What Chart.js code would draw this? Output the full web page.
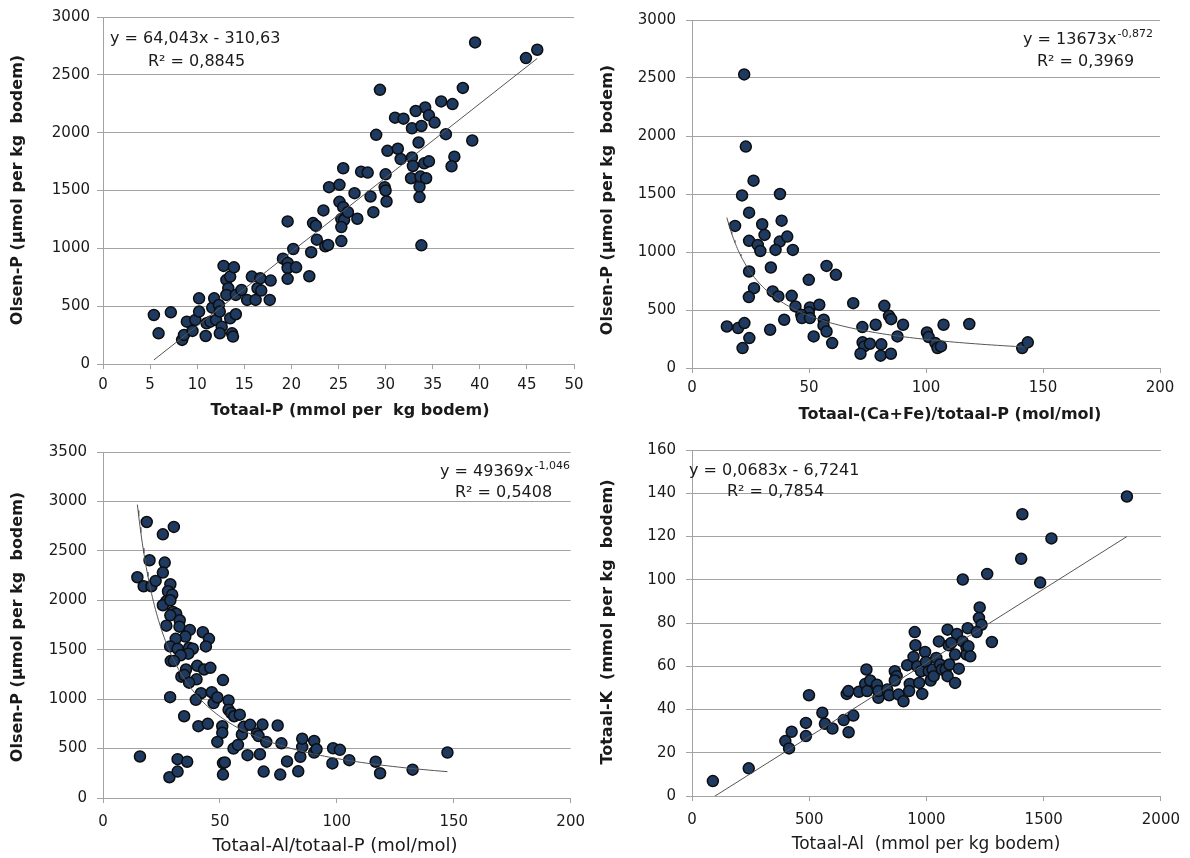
<!DOCTYPE html>
<html>
<head>
<meta charset="utf-8">
<script src="https://cdn.jsdelivr.net/npm/chart.js@4.4.1/dist/chart.umd.min.js"></script>
<style>
  body { margin: 0; background: #fff; }
  .panel { position: absolute; width: 595px; height: 429px; }
</style>
</head>
<body>
<div class="panel" style="left:0;top:0"><canvas id="c1" width="595" height="429"></canvas></div>
<div class="panel" style="left:595px;top:0"><canvas id="c2" width="595" height="429"></canvas></div>
<div class="panel" style="left:0;top:429px"><canvas id="c3" width="595" height="429"></canvas></div>
<div class="panel" style="left:595px;top:429px"><canvas id="c4" width="595" height="429"></canvas></div>
<script>
// Olsen-P against totaal-P
const totaalP = [
  5.4, 5.9, 7.2, 8.4, 8.6, 8.9, 9.5, 9.8, 10.2, 10.2, 10.9, 11.0, 11.4, 11.6, 11.8, 12.0, 12.3, 12.4, 12.6, 12.4,
  12.8, 13.1, 13.3, 13.5, 13.1, 13.5, 13.7, 13.8, 13.9, 14.1, 14.1, 14.7, 15.3, 15.8, 16.2, 16.4, 16.7, 16.8, 17.7, 17.8,
  19.6, 20.2, 19.1, 19.6, 19.6, 20.5, 19.6, 21.9, 22.1, 22.3, 22.6, 22.7, 23.4, 23.6, 23.9, 24.0, 25.1, 25.1, 25.5, 25.3,
  25.6, 25.3, 25.3, 26.0, 26.7, 27.0, 28.4, 28.7, 29.9, 30.0, 30.1, 33.6, 33.6, 33.8,
  39.5, 44.9, 46.1, 29.4, 38.2, 35.9, 37.1, 34.2, 33.2, 31.0, 31.9, 34.6, 35.2, 32.8, 33.8, 29.0, 36.4, 39.2, 30.2, 31.3,
  33.5, 31.6, 32.8, 32.9, 37.3, 37.0, 34.1, 34.6, 25.5, 27.4, 28.1, 30.0, 32.7, 33.7, 34.3
];
const olsenPa = [
  424, 265, 447, 208, 251, 366, 286, 381, 568, 453, 242, 352, 366, 487, 568, 381, 510, 453, 323, 265,
  848, 727, 655, 756, 597, 395, 265, 237, 836, 597, 430, 640, 554, 756, 554, 655, 741, 635, 554, 721,
  1233, 994, 911, 874, 830, 836, 736, 759, 966, 1218, 1195, 1075, 1328, 1017, 1029, 1529, 1549, 1402, 1356, 1253,
  1247, 1184, 1063, 1313, 1477, 1256, 1448, 1313, 1529, 1500, 1405, 1534, 1443, 1026,
  2780, 2645, 2717, 2370, 2387, 2270, 2247, 2218, 2187, 2130, 2121, 2150, 2087, 2038, 2058, 1981, 1987, 1932, 1843, 1861,
  1915, 1772, 1786, 1712, 1792, 1709, 1735, 1752, 1692, 1663, 1655, 1640, 1606, 1620, 1606
];

// Olsen-P against totaal-(Ca+Fe)/totaal-P
const caFeRatio = [
  22.3, 23.0, 26.3, 21.4, 37.6, 24.4, 18.4, 30.0, 31.0, 38.3, 24.4, 28.1, 29.2, 37.5, 40.7, 35.7, 43.1, 24.4, 33.7, 26.5,
  24.3, 34.5, 36.9, 42.6, 49.9, 57.5, 61.5, 44.2, 50.4, 49.9, 46.7, 47.0, 54.4, 50.4, 68.9, 82.2, 56.3, 56.2, 57.5, 52.0,
  59.9, 39.4, 33.4, 14.9, 19.7, 22.4, 24.5, 21.6, 72.8, 72.9, 73.6, 76.0, 72.0, 78.5, 80.9, 80.6, 84.2, 85.1, 85.0, 90.2,
  87.8, 100.4, 101.1, 104.0, 104.9, 106.4, 107.5, 118.5, 141.1, 143.5
];
const olsenPb = [
  2531, 1909, 1615, 1488, 1500, 1339, 1225, 1239, 1147, 1270, 1096, 1061, 1009, 1090, 1133, 1018, 1018, 832, 866, 688,
  611, 660, 617, 622, 760, 880, 803, 531, 522, 480, 459, 430, 545, 430, 559, 536, 416, 367, 315, 272,
  215, 416, 330, 358, 344, 387, 258, 172, 353, 221, 186, 209, 123, 373, 204, 106, 450, 421, 123, 373,
  272, 307, 267, 215, 172, 186, 373, 379, 172, 221
];

// Olsen-P against totaal-Al/totaal-P
const alPRatio = [
  18.7, 25.6, 30.3, 19.9, 26.4, 14.7, 17.4, 20.7, 22.5, 25.6, 28.8, 27.8, 29.6, 27.1, 25.6, 28.8, 29.9, 31.3, 28.8, 32.8,
  27.1, 32.7, 37.1, 42.7, 45.3, 44.0, 35.2, 31.1, 28.7, 31.9, 36.8, 38.4, 36.5, 33.2, 29.0, 30.3, 35.5, 40.3, 43.2, 45.9,
  33.5, 34.8, 40.0, 36.8, 51.3, 41.9, 46.5, 47.3, 48.9, 39.7, 53.7, 53.7, 54.8, 56.1, 58.5,
  15.8, 28.4, 31.9, 31.9, 36.0, 28.7, 34.7, 40.8, 44.8, 51.0, 51.0, 48.9, 51.3, 52.1, 51.3, 55.8, 57.7, 61.8, 59.4, 60.2,
  62.9, 65.8, 66.5, 68.2, 67.1, 69.8, 68.7, 74.7, 75.8, 76.3, 78.7, 83.5, 84.4, 85.2, 85.2, 90.3, 90.3, 91.3, 98.4, 101.3,
  98.1, 105.3, 116.6, 118.5, 132.4, 147.3
];
const olsenPc = [
  2792, 2667, 2742, 2405, 2381, 2233, 2142, 2142, 2196, 2280, 2162, 2091, 2057, 1990, 1950, 2000, 1882, 1865, 1848, 1798,
  1743, 1733, 1700, 1677, 1610, 1533, 1633, 1610, 1533, 1510, 1520, 1510, 1460, 1443, 1387, 1387, 1300, 1337, 1300, 1317,
  1227, 1243, 1200, 1167, 1193, 1060, 1070, 960, 1017, 993, 987, 893, 860, 827, 843,
  420, 210, 267, 393, 367, 1020, 827, 727, 750, 727, 660, 567, 353, 360, 237, 500, 537, 433, 643, 720,
  740, 653, 627, 743, 443, 567, 267, 733, 237, 553, 370, 270, 417, 517, 600, 577, 460, 493, 503, 487,
  350, 383, 367, 250, 287, 460
];

// Totaal-K against totaal-Al
const totaalAl = [
  1855, 1409, 1533, 1404, 1259, 1155, 1485, 1227, 1224, 1235, 1176, 1214, 950, 1090, 1130,
  89, 242, 398, 414, 425, 486, 486, 499, 556, 567, 599, 647, 668, 688, 660, 667, 712, 739, 744, 747,
  760, 789, 795, 795, 833, 841, 865, 873, 865, 881, 902, 918, 929, 926, 953, 945, 961, 977, 969, 982,
  994, 998, 1010, 1018, 1026, 1031, 1042, 1053, 1058, 1066, 1082, 1095, 1106, 1090, 1098, 1122, 1122, 1138, 1154, 1171,
  1171, 1179, 1187, 1279
];
const totaalK = [
  138.5, 130.3, 119.1, 109.7, 102.7, 100.1, 98.7, 87.2, 82.3, 79.2, 77.6, 75.8, 75.8, 76.9, 74.9,
  6.9, 12.8, 25.4, 22.0, 29.7, 27.7, 33.8, 46.6, 38.5, 33.4, 31.2, 35.1, 29.5, 37.2, 47.2, 48.5, 48.2, 51.8, 58.5, 48.5,
  53.4, 51.5, 45.4, 48.5, 49.2, 46.6, 57.7, 55.4, 53.4, 46.9, 43.8, 60.5, 51.8, 48.5, 69.7, 64.3, 60.0, 57.7, 52.3, 47.2,
  66.6, 62.0, 57.7, 53.4, 58.5, 55.4, 63.8, 71.5, 60.8, 58.5, 58.5, 69.7, 70.8, 55.4, 60.8, 65.4, 52.3, 58.9, 71.5, 68.5,
  65.4, 69.2, 64.6, 71.2
];

// fitted trendlines
const fitP = { a: 64.043, b: -310.63, r2: 0.8845 };
const fitCaFe = { a: 13673, b: -0.872, r2: 0.3969 };
const fitAlP = { a: 49369, b: -1.046, r2: 0.5408 };
const fitK = { a: 0.0683, b: -6.7241, r2: 0.7854 };

// axis ticks
const ticksOlsen3000 = [0, 500, 1000, 1500, 2000, 2500, 3000];
const ticksOlsen3500 = [0, 500, 1000, 1500, 2000, 2500, 3000, 3500];
const ticksTotaalP = [0, 5, 10, 15, 20, 25, 30, 35, 40, 45, 50];
const ticksRatio = [0, 50, 100, 150, 200];
const ticksK = [0, 20, 40, 60, 80, 100, 120, 140, 160];
const ticksAl = [0, 500, 1000, 1500, 2000];

const GRID = '#a3a3a3';
const INK = '#1a1a1a';
const FAM = "'DejaVu Sans', sans-serif";

const dec = v => String(v).replace('.', ',');
const points = (xs, ys) => xs.map((x, i) => ({ x: x, y: ys[i] }));

function linearTrend(xs, fit) {
  const lo = Math.min(...xs), hi = Math.max(...xs);
  return [{ x: lo, y: fit.a * lo + fit.b }, { x: hi, y: fit.a * hi + fit.b }];
}

function powerTrend(xs, fit) {
  const lo = Math.min(...xs), hi = Math.max(...xs);
  const out = [];
  for (let i = 0; i <= 120; i++) {
    const x = lo * Math.pow(hi / lo, i / 120);
    out.push({ x: x, y: fit.a * Math.pow(x, fit.b) });
  }
  return out;
}

const linearLabel = f => 'y = ' + dec(f.a) + 'x - ' + dec(-f.b);
const r2Label = f => 'R\u00b2 = ' + dec(f.r2);

// axis titles and trendline equations
const panelText = {
  id: 'panelText',
  afterDraw(chart, args, opts) {
    const ctx = chart.ctx;
    ctx.save();
    ctx.fillStyle = INK;
    ctx.textBaseline = 'middle';
    (opts.items || []).forEach(t => {
      ctx.save();
      ctx.translate(t.x, t.y);
      if (t.rotate) ctx.rotate(-Math.PI / 2);
      ctx.font = t.font;
      ctx.textAlign = t.align || 'center';
      ctx.fillText(t.text, 0, 0);
      if (t.sup) {
        const w = ctx.measureText(t.text).width;
        ctx.font = '11px ' + FAM;
        ctx.textAlign = 'left';
        ctx.fillText(t.sup, w + 1, -6);
      }
      ctx.restore();
    });
    ctx.restore();
  }
};

function makePanel(id, cfg) {
  const tickFont = { family: FAM, size: 15 };
  new Chart(document.getElementById(id), {
    type: 'scatter',
    data: {
      datasets: [
        {
          type: 'line',
          data: cfg.trend,
          borderColor: '#555',
          borderWidth: 1,
          pointRadius: 0,
          fill: false,
          tension: 0,
          order: 0
        },
        {
          data: cfg.points,
          pointRadius: 5.5,
          pointBackgroundColor: '#1f3a60',
          pointBorderColor: '#0d0d0d',
          pointBorderWidth: 1.5,
          order: 1
        }
      ]
    },
    options: {
      responsive: false,
      animation: false,
      events: [],
      layout: { padding: { left: 0, top: cfg.top, right: cfg.right, bottom: 0 } },
      plugins: {
        legend: { display: false },
        tooltip: { enabled: false },
        panelText: { items: cfg.texts }
      },
      scales: {
        x: {
          type: 'linear',
          min: cfg.xTicks[0],
          max: cfg.xTicks[cfg.xTicks.length - 1],
          ticks: {
            stepSize: cfg.xTicks[1] - cfg.xTicks[0],
            autoSkip: false,
            maxRotation: 0,
            color: INK,
            font: tickFont,
            padding: cfg.xPad,
            callback: v => String(v)
          },
          grid: { drawOnChartArea: false, drawTicks: true, tickLength: 5, color: GRID },
          border: { color: GRID },
          afterFit: s => { s.height = cfg.xH; }
        },
        y: {
          min: cfg.yTicks[0],
          max: cfg.yTicks[cfg.yTicks.length - 1],
          ticks: {
            stepSize: cfg.yTicks[1] - cfg.yTicks[0],
            color: INK,
            font: tickFont,
            padding: cfg.yPad,
            callback: v => String(v)
          },
          grid: { color: GRID, tickLength: 6 },
          border: { color: GRID },
          afterFit: s => { s.width = cfg.yW; }
        }
      }
    },
    plugins: [panelText]
  });
}

const boldTitle = 'bold 16px ' + FAM;
const eqFont = '16px ' + FAM;

makePanel('c1', {
  points: points(totaalP, olsenPa),
  trend: linearTrend(totaalP, fitP),
  xTicks: ticksTotaalP, yTicks: ticksOlsen3000,
  top: 17, right: 21, xH: 65, yW: 103, xPad: 7, yPad: 7,
  texts: [
    { text: 'Olsen-P (\u00b5mol per kg  bodem)', x: 18, y: 190, rotate: true, font: boldTitle },
    { text: 'Totaal-P (mmol per  kg bodem)', x: 350, y: 411, font: boldTitle },
    { text: linearLabel(fitP), x: 110, y: 39, align: 'left', font: eqFont },
    { text: r2Label(fitP), x: 148, y: 62, align: 'left', font: eqFont }
  ]
});

makePanel('c2', {
  points: points(caFeRatio, olsenPb),
  trend: powerTrend(caFeRatio, fitCaFe),
  xTicks: ticksRatio, yTicks: ticksOlsen3000,
  top: 20, right: 30, xH: 61, yW: 97, xPad: 6, yPad: 10,
  texts: [
    { text: 'Olsen-P (\u00b5mol per kg  bodem)', x: 13, y: 200, rotate: true, font: boldTitle },
    { text: 'Totaal-(Ca+Fe)/totaal-P (mol/mol)', x: 355, y: 415, font: boldTitle },
    { text: 'y = ' + fitCaFe.a + 'x', sup: dec(fitCaFe.b), x: 428, y: 40, align: 'left', font: eqFont },
    { text: r2Label(fitCaFe), x: 442, y: 62, align: 'left', font: eqFont }
  ]
});

makePanel('c3', {
  points: points(alPRatio, olsenPc),
  trend: powerTrend(alPRatio, fitAlP),
  xTicks: ticksRatio, yTicks: ticksOlsen3500,
  top: 23, right: 22, xH: 60, yW: 103, xPad: 10, yPad: 10,
  texts: [
    { text: 'Olsen-P (\u00b5mol per kg  bodem)', x: 18, y: 198, rotate: true, font: boldTitle },
    { text: 'Totaal-Al/totaal-P (mol/mol)', x: 335, y: 417, font: '18px ' + FAM },
    { text: 'y = ' + fitAlP.a + 'x', sup: dec(fitAlP.b), x: 440, y: 43, align: 'left', font: eqFont },
    { text: r2Label(fitAlP), x: 455, y: 64, align: 'left', font: eqFont }
  ]
});

makePanel('c4', {
  points: points(totaalAl, totaalK),
  trend: linearTrend(totaalAl, fitK),
  xTicks: ticksAl, yTicks: ticksK,
  top: 21, right: 28, xH: 62, yW: 97, xPad: 10, yPad: 10,
  texts: [
    { text: 'Totaal-K  (mmol per kg  bodem)', x: 13, y: 193, rotate: true, font: boldTitle },
    { text: 'Totaal-Al  (mmol per kg bodem)', x: 331, y: 416, font: '17px ' + FAM },
    { text: linearLabel(fitK), x: 94, y: 42, align: 'left', font: eqFont },
    { text: r2Label(fitK), x: 132, y: 63, align: 'left', font: eqFont }
  ]
});
</script>
</body>
</html>
